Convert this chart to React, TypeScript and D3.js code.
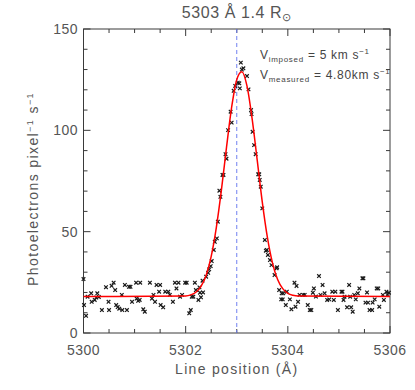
import React from 'react'
import * as d3 from 'd3'

// observed spectrum: [wavelength (Å), photoelectrons pixel^-1 s^-1]
const observed: [number, number][] = [
  [5300.00, 26.6], [5300.01, 13.8], [5300.05, 8.5], [5300.08, 17.9], [5300.15, 19.6],
  [5300.16, 15.4], [5300.22, 16.3], [5300.25, 17.5], [5300.27, 19.6], [5300.30, 17.8],
  [5300.36, 11.3], [5300.44, 22.6], [5300.49, 15.4], [5300.50, 11.3], [5300.55, 23.3],
  [5300.59, 24.8], [5300.62, 21.2], [5300.64, 13.8], [5300.67, 12.8], [5300.70, 12.0],
  [5300.75, 18.8], [5300.76, 11.3], [5300.81, 23.7], [5300.85, 11.3], [5300.89, 22.8],
  [5300.92, 22.8], [5300.95, 15.4], [5301.03, 24.8], [5301.04, 17.0], [5301.07, 15.9],
  [5301.10, 16.3], [5301.11, 24.8], [5301.17, 11.7], [5301.20, 10.5], [5301.30, 24.8],
  [5301.34, 17.0], [5301.37, 18.8], [5301.40, 15.4], [5301.43, 23.7], [5301.48, 20.4],
  [5301.50, 23.7], [5301.51, 13.8], [5301.56, 12.7], [5301.60, 20.4], [5301.66, 20.4],
  [5301.69, 18.8], [5301.75, 15.4], [5301.79, 24.8], [5301.82, 22.0], [5301.86, 24.8],
  [5301.89, 17.9], [5301.93, 18.8], [5301.99, 24.8], [5302.02, 24.8], [5302.07, 9.7],
  [5302.10, 11.3], [5302.12, 17.9], [5302.15, 17.9], [5302.18, 24.8], [5302.20, 21.2],
  [5302.25, 16.3], [5302.27, 22.5], [5302.28, 19.9], [5302.30, 17.6], [5302.33, 25.8],
  [5302.34, 20.0], [5302.40, 27.8], [5302.44, 29.7], [5302.46, 31.4], [5302.49, 33.0],
  [5302.51, 35.5], [5302.55, 41.0], [5302.57, 45.0], [5302.61, 46.7], [5302.63, 54.9],
  [5302.66, 70.2], [5302.68, 67.2], [5302.72, 78.0], [5302.74, 78.0], [5302.78, 88.2],
  [5302.80, 86.0], [5302.83, 100.1], [5302.88, 109.2], [5302.90, 103.8], [5302.94, 119.5],
  [5302.97, 121.9], [5303.02, 123.5], [5303.05, 123.2], [5303.06, 120.7], [5303.08, 133.4],
  [5303.10, 130.0], [5303.13, 130.6], [5303.20, 126.8], [5303.23, 120.2], [5303.28, 110.0],
  [5303.29, 108.0], [5303.31, 99.3], [5303.34, 92.7], [5303.37, 88.2], [5303.42, 78.3],
  [5303.44, 78.3], [5303.45, 75.5], [5303.47, 72.2], [5303.50, 61.5], [5303.55, 45.9],
  [5303.57, 40.6], [5303.59, 41.0], [5303.61, 38.5], [5303.65, 36.0], [5303.68, 33.5],
  [5303.74, 28.6], [5303.78, 31.9], [5303.79, 32.4], [5303.83, 21.2], [5303.87, 16.6],
  [5303.88, 19.6], [5303.90, 16.6], [5303.91, 19.6], [5303.96, 13.8], [5303.98, 20.4],
  [5304.04, 16.6], [5304.07, 11.7], [5304.13, 24.8], [5304.15, 13.0], [5304.17, 23.2],
  [5304.20, 15.4], [5304.23, 18.8], [5304.30, 18.8], [5304.33, 18.8], [5304.39, 13.8],
  [5304.43, 11.3], [5304.46, 11.3], [5304.49, 19.9], [5304.51, 22.0], [5304.55, 18.0],
  [5304.61, 28.1], [5304.64, 18.8], [5304.68, 23.7], [5304.72, 19.6], [5304.77, 16.3],
  [5304.81, 16.6], [5304.87, 20.4], [5304.90, 16.3], [5304.93, 20.4], [5304.98, 11.3],
  [5305.05, 20.4], [5305.07, 20.4], [5305.09, 16.3], [5305.11, 17.9], [5305.16, 12.7],
  [5305.20, 23.7], [5305.22, 17.9], [5305.24, 12.7], [5305.27, 10.5], [5305.30, 18.8],
  [5305.33, 16.6], [5305.37, 19.6], [5305.40, 22.0], [5305.46, 27.0], [5305.48, 27.0],
  [5305.52, 15.0], [5305.55, 20.0], [5305.57, 15.0], [5305.60, 11.3], [5305.65, 11.3],
  [5305.66, 15.0], [5305.70, 16.6], [5305.74, 22.0], [5305.77, 22.0], [5305.79, 13.0],
  [5305.86, 18.8], [5305.88, 16.3], [5305.93, 20.4], [5305.95, 18.8], [5305.98, 19.9],
]

// fitted line profile
const fitX = [5300.0, 5302.0, 5302.1, 5302.2, 5302.3, 5302.4, 5302.5, 5302.6, 5302.7, 5302.8,
  5302.9, 5303.0, 5303.1, 5303.2, 5303.3, 5303.4, 5303.5, 5303.6, 5303.7, 5303.8, 5303.9,
  5304.0, 5304.1, 5304.2, 5306.0]
const fitY = [18.0, 18.3, 18.8, 20.1, 23.0, 28.4, 37.8, 52.0, 70.6, 91.7,
  111.4, 125.0, 128.9, 121.9, 105.9, 85.4, 64.6, 47.2, 34.5, 26.4, 21.9,
  19.6, 18.6, 18.2, 18.0]

const restLine = 5303.0
const xTicks = [5300, 5302, 5304, 5306]
const yTicks = [0, 50, 100, 150]

const W = 415
const H = 390
const left = 83.5
const right = 390
const top = 29
const bottom = 333
const ink = '#3a3a3a'
const textInk = '#555'
const font = 'Liberation Sans, Arial, sans-serif'

const App = () => {
  const x = d3.scaleLinear().domain([5300, 5306]).range([left, right])
  const y = d3.scaleLinear().domain([0, 150]).range([bottom, top])

  const fitLine = d3.line<number>()
    .x((_, i) => x(fitX[i]))
    .y(d => y(d))
    .curve(d3.curveMonotoneX)

  const xMinor = d3.range(5300, 5306.001, 0.5)
  const yMinor = d3.range(0, 150.001, 10)

  return (
    <svg width={W} height={H} style={{ position: 'absolute', left: 0, top: 0, background: '#fff' }}
      fontFamily={font}>
      {/* title */}
      <text x={(left + right) / 2} y={18} textAnchor="middle" fontSize={16} fill={textInk} letterSpacing={0.6}>
        5303 Å 1.4 R<tspan fontSize={11} dy={3}>⊙</tspan>
      </text>

      {/* frame */}
      <rect x={left} y={top} width={right - left} height={bottom - top} fill="none" stroke={ink} strokeWidth={1} />

      {/* x ticks, bottom and top */}
      {xMinor.map(v => {
        const major = xTicks.includes(Math.round(v * 10) / 10)
        const len = major ? 7 : 4
        return (
          <g key={'xt' + v} stroke={ink} strokeWidth={1}>
            <line x1={x(v)} x2={x(v)} y1={bottom} y2={bottom - len} />
            <line x1={x(v)} x2={x(v)} y1={top} y2={top + len} />
          </g>
        )
      })}
      {/* y ticks, left and right */}
      {yMinor.map(v => {
        const major = yTicks.includes(Math.round(v))
        const len = major ? 7 : 4
        return (
          <g key={'yt' + v} stroke={ink} strokeWidth={1}>
            <line x1={left} x2={left + len} y1={y(v)} y2={y(v)} />
            <line x1={right} x2={right - len} y1={y(v)} y2={y(v)} />
          </g>
        )
      })}

      {xTicks.map(v => (
        <text key={'xl' + v} x={x(v)} y={355} textAnchor="middle" fontSize={14} fill={textInk} letterSpacing={0.5}>{v}</text>
      ))}
      {yTicks.map(v => (
        <text key={'yl' + v} x={78} y={y(v) + 5} textAnchor="end" fontSize={14} fill={textInk} letterSpacing={0.5}>{v}</text>
      ))}

      <text x={(left + right) / 2} y={374} textAnchor="middle" fontSize={14} fill={textInk} letterSpacing={1.3}>Line position (Å)</text>
      <text transform={`translate(38,${(top + bottom) / 2 + 8}) rotate(-90)`} textAnchor="middle" fontSize={14}
        fill={textInk} letterSpacing={1.4}>
        Photoelectrons pixel<tspan fontSize={9} dy={-5}>−1</tspan><tspan dy={5}> s</tspan><tspan fontSize={9} dy={-5}>−1</tspan>
      </text>

      {/* rest wavelength */}
      <line x1={x(restLine)} x2={x(restLine)} y1={top} y2={bottom} stroke="#7080f0" strokeWidth={1} strokeDasharray="4,3" />

      {/* observed points */}
      <g stroke="#1a1a1a" strokeWidth={1.2}>
        {observed.map(([lx, v], i) => {
          const cx = x(lx)
          const cy = y(v)
          const s = 1.8
          return <path key={'p' + i} d={`M${cx - s},${cy - s}L${cx + s},${cy + s}M${cx - s},${cy + s}L${cx + s},${cy - s}`} />
        })}
      </g>

      {/* fit */}
      <path d={fitLine(fitY) || ''} fill="none" stroke="#ff0000" strokeWidth={1.5} />

      {/* velocity annotations */}
      <text x={260} y={59} fontSize={12} fill="#444" letterSpacing={0.7}>
        V<tspan fontSize={8} dy={3}>imposed</tspan><tspan dy={-3}> = 5 km s</tspan><tspan fontSize={8} dy={-5}>−1</tspan>
      </text>
      <text x={260} y={79} fontSize={12} fill="#444" letterSpacing={0.7}>
        V<tspan fontSize={8} dy={3}>measured</tspan><tspan dy={-3}> = 4.80km s</tspan><tspan fontSize={8} dy={-5}>−1</tspan>
      </text>
    </svg>
  )
}

export default App
